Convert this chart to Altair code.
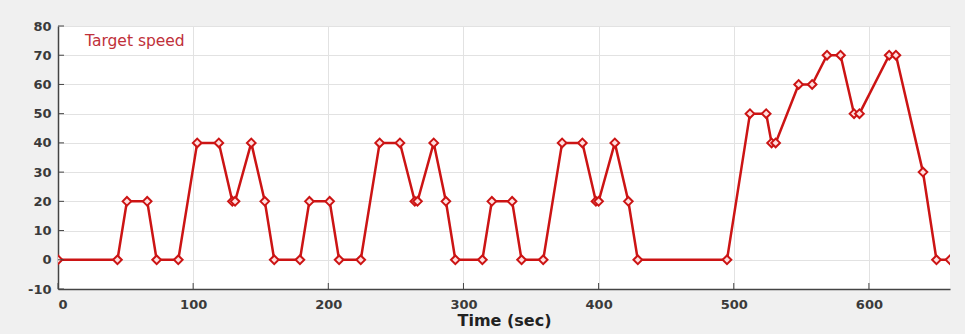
import altair as alt
import pandas as pd

time_s = [0, 44, 51, 66, 73, 89, 103, 119, 129, 131, 143, 153, 160, 179, 186, 201,
          208, 224, 238, 253, 264, 266, 278, 287, 294, 314, 321, 336, 343, 359,
          373, 388, 398, 400, 412, 422, 429, 495, 512, 524, 528, 531, 548, 558,
          569, 579, 589, 593, 615, 620, 640, 650, 660]
speed = [0, 0, 20, 20, 0, 0, 40, 40, 20, 20, 40, 20, 0, 0, 20, 20,
         0, 0, 40, 40, 20, 20, 40, 20, 0, 0, 20, 20, 0, 0,
         40, 40, 20, 20, 40, 20, 0, 0, 50, 50, 40, 40, 60, 60,
         70, 70, 50, 50, 70, 70, 30, 0, 0]

df = pd.DataFrame({"t": time_s, "v": speed})

x_ticks = [0, 100, 200, 300, 400, 500, 600]
y_ticks = [-10, 0, 10, 20, 30, 40, 50, 60, 70, 80]

RED = "#cc1414"
FONT = "DejaVu Sans"
AX = "#444444"

xs = alt.Scale(domain=[0, 660], nice=False)
ys = alt.Scale(domain=[-10, 80], nice=False)

x_axis = alt.Axis(values=x_ticks, title="Time (sec)", ticks=False,
                  labelExpr="datum.value + ''", labelOverlap=False, labelPadding=9)
y_axis = alt.Axis(values=y_ticks, title=None, ticks=False,
                  labelExpr="datum.value + ''", labelOverlap=False, labelPadding=7)

x = alt.X("t:Q", scale=xs, axis=x_axis)
y = alt.Y("v:Q", scale=ys, axis=y_axis)

line = alt.Chart(df).mark_line(color=RED, strokeWidth=2.5, clip=True).encode(x=x, y=y)
pts = alt.Chart(df).mark_point(shape="diamond", size=75, filled=True, fill="#ffdede",
                               stroke=RED, strokeWidth=2, opacity=1, clip=True).encode(x=x, y=y)

xt = alt.Chart(pd.DataFrame({"t": x_ticks})).mark_rule(color=AX, strokeWidth=1).encode(
    x=alt.X("t:Q", scale=xs, axis=x_axis), y=alt.value(263), y2=alt.value(257))
yt = alt.Chart(pd.DataFrame({"v": y_ticks})).mark_rule(color=AX, strokeWidth=1).encode(
    y=alt.Y("v:Q", scale=ys, axis=y_axis), x=alt.value(0), x2=alt.value(6))

label = alt.Chart(pd.DataFrame({"txt": ["Target speed"]})).mark_text(
    align="left", baseline="middle", font=FONT, fontSize=15.5, color="#c0303a"
).encode(x=alt.value(27), y=alt.value(15), text="txt:N")

chart = (line + pts + xt + yt + label).properties(
    width=892, height=263,
    autosize=alt.AutoSizeParams(type="none"),
    padding={"left": 58, "top": 26, "right": 15, "bottom": 45},
    background="#f0f0f0",
).configure_view(
    fill="white", strokeWidth=0
).configure_axis(
    labelFont=FONT, labelFontSize=13, labelFontWeight="bold", labelColor="#3a3a3a",
    titleFont=FONT, titleFontSize=16, titleFontWeight="bold", titleColor="#222222",
    gridColor="#e2e2e2", gridWidth=1, domainColor=AX, domainWidth=1.5,
).configure_axisX(titlePadding=1)

chart.save("out.html", embed_options={"renderer": "svg", "actions": False})
